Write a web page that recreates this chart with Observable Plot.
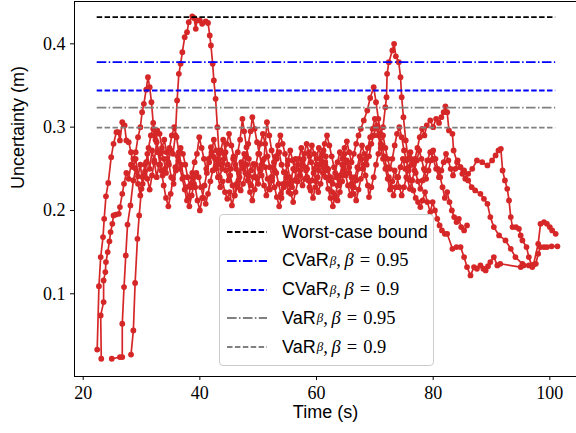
<!DOCTYPE html>
<html>
<head>
<meta charset="utf-8">
<script src="https://cdn.jsdelivr.net/npm/d3@7"></script>
<script src="https://cdn.jsdelivr.net/npm/@observablehq/plot@0.6"></script>
<style>
  html, body { margin: 0; padding: 0; background: #fff; }
  #wrap { position: relative; width: 576px; height: 433px; overflow: hidden; }
  #legend { position: absolute; box-sizing: border-box; border: 1px solid #cccccc; border-radius: 4px; background: rgba(255,255,255,0.8); }
  .row { position: absolute; left: 0; height: 28px; display: flex; align-items: center; white-space: nowrap; }
  .row svg { margin-left: 7px; margin-right: 15px; }
  .sans { font-family: "Liberation Sans", Arial, sans-serif; font-size: 18px; }
  .math { font-family: "Liberation Serif", serif; font-size: 18.5px; }
  .it { font-style: italic; }
  .eq { margin: 0 6px; }
  sub.b { font-family: "Liberation Serif", serif; font-style: italic; font-size: 13px; vertical-align: -5px; line-height: 0; margin-left: 1px; }
</style>
</head>
<body>
<div id="wrap"></div>
<script>
// ---- data ----
const xTicks = [20, 40, 60, 80, 100];
const yTicks = [0.1, 0.2, 0.3, 0.4];
const xLabel = "Time (s)";
const yLabel = "Uncertainty (m)";

const boundNames = ["Worst-case bound", "CVaR 0.95", "CVaR 0.9", "VaR 0.95", "VaR 0.9"];
const boundValues = [0.432, 0.378, 0.344, 0.3235, 0.2995];
const boundSpan = [22.4, 101.0];

const runA = [[22.4,.033],[22.7,.109],[23.0,.144],[23.4,.168],[23.6,.19],[23.9,.217],[24.3,.233],[24.8,.264],[25.2,.28],[25.7,.294],[26.0,.294],[26.3,.284],[26.7,.306],[27.1,.302],[27.4,.284],[27.8,.282],[28.2,.27],[28.6,.252],[29.0,.262],[29.4,.241],[29.8,.255],[30.2,.232],[30.6,.247],[31.0,.268],[31.4,.25],[31.8,.272],[32.2,.258],[32.6,.24],[33.0,.255],[33.4,.27],[33.8,.262],[34.2,.245],[34.6,.258],[35.0,.272],[35.4,.268],[35.8,.29],[36.1,.332],[36.4,.364],[36.7,.376],[37.0,.39],[37.4,.408],[37.8,.414],[38.1,.426],[38.7,.433],[39.0,.431],[39.3,.418],[39.5,.428],[40.0,.428],[40.4,.424],[41.0,.427],[41.4,.425],[41.7,.41],[41.9,.398],[42.2,.376],[42.4,.356],[42.7,.334],[43.0,.3],[43.3,.268],[43.7,.255],[44.1,.262],[44.5,.248],[44.9,.236],[45.3,.25],[45.7,.262],[46.1,.255],[46.5,.27],[46.9,.285],[47.3,.31],[47.6,.295],[48.0,.276],[48.4,.262],[48.8,.248],[49.2,.256],[49.6,.24],[50.0,.232],[50.4,.248],[50.8,.26],[51.2,.252],[51.6,.238],[52.0,.225],[52.4,.236],[52.8,.248],[53.2,.262],[53.6,.27],[54.0,.255],[54.4,.246],[54.8,.232],[55.2,.222],[55.6,.235],[56.0,.25],[56.4,.262],[56.8,.255],[57.2,.242],[57.6,.23],[58.0,.238],[58.4,.25],[58.8,.265],[59.2,.278],[59.6,.268],[60.0,.255],[60.4,.248],[60.8,.26],[61.2,.272],[61.6,.265],[62.0,.25],[62.4,.24],[62.8,.232],[63.2,.245],[63.6,.258],[64.0,.27],[64.4,.262],[64.8,.275],[65.2,.283],[65.6,.27],[66.0,.258],[66.4,.268],[66.8,.28],[67.2,.29],[67.6,.298],[68.1,.308],[68.7,.32],[69.2,.335],[69.8,.348],[70.2,.33],[70.6,.31],[71.0,.292],[71.4,.3],[71.8,.324],[72.0,.336],[72.1,.364],[72.4,.378],[73.0,.392],[73.3,.40],[73.6,.385],[74.1,.378],[74.4,.36],[74.6,.336],[74.9,.312],[75.3,.284],[75.7,.262],[76.1,.27],[76.5,.255],[76.9,.262],[77.3,.275],[77.7,.288],[78.1,.298],[78.5,.29],[78.9,.302],[79.5,.308],[80.0,.3],[80.5,.31],[81.0,.305],[81.4,.312],[81.8,.318],[82.1,.325],[82.4,.318],[82.7,.296],[83.3,.292],[83.5,.272],[84.1,.258],[84.7,.252],[85.3,.248],[86.0,.236],[86.6,.228],[87.2,.224],[88.1,.22],[88.7,.214],[89.3,.208],[89.8,.192],[90.4,.18],[91.3,.17],[92.4,.164],[93.3,.154],[94.1,.144],[95.3,.136],[96.4,.134],[97.2,.135],[98.0,.16],[98.4,.184],[99.0,.186],[99.5,.184],[100.0,.18],[100.4,.176],[101.0,.172]];

const runB = [[23.1,.022],[23.0,.074],[23.5,.09],[23.5,.116],[23.8,.126],[23.9,.138],[24.2,.15],[24.5,.163],[24.7,.174],[25.0,.184],[25.2,.194],[25.6,.195],[26.1,.196],[26.3,.204],[26.7,.22],[27.0,.232],[27.4,.245],[27.8,.238],[28.2,.255],[28.6,.262],[29.0,.27],[29.4,.288],[29.8,.3],[30.1,.318],[30.4,.328],[30.8,.345],[31.1,.36],[31.4,.348],[31.7,.33],[32.0,.305],[32.3,.29],[32.7,.296],[33.1,.292],[33.5,.275],[33.9,.285],[34.3,.27],[34.7,.255],[35.1,.24],[35.5,.232],[35.9,.248],[36.3,.26],[36.7,.275],[37.1,.268],[37.5,.255],[37.9,.24],[38.3,.23],[38.7,.245],[39.1,.258],[39.5,.268],[39.9,.288],[40.3,.275],[40.7,.262],[41.1,.25],[41.5,.262],[41.9,.276],[42.3,.265],[42.7,.25],[43.1,.24],[43.5,.228],[43.9,.235],[44.3,.222],[44.7,.214],[45.1,.222],[45.5,.206],[45.9,.218],[46.3,.232],[46.7,.245],[47.1,.258],[47.5,.25],[47.9,.265],[48.3,.28],[48.7,.295],[49.0,.312],[49.4,.298],[49.8,.282],[50.2,.268],[50.6,.255],[51.0,.262],[51.5,.306],[51.9,.29],[52.3,.272],[52.7,.258],[53.1,.245],[53.5,.232],[53.9,.22],[54.3,.232],[54.7,.245],[55.1,.26],[55.5,.272],[55.9,.26],[56.3,.248],[56.7,.235],[57.1,.242],[57.5,.255],[57.9,.268],[58.3,.28],[58.7,.27],[59.1,.258],[59.5,.245],[59.9,.235],[60.3,.222],[60.7,.232],[61.1,.245],[61.5,.258],[61.9,.248],[62.3,.236],[62.7,.222],[63.1,.215],[63.6,.212],[64.0,.222],[64.4,.235],[64.8,.248],[65.2,.26],[65.6,.252],[66.0,.24],[66.4,.228],[66.8,.236],[67.2,.25],[67.6,.262],[68.0,.255],[68.4,.242],[68.8,.23],[69.0,.216],[69.4,.228],[69.8,.24],[70.2,.255],[70.6,.268],[71.0,.28],[71.4,.29],[71.8,.275],[72.2,.262],[72.6,.25],[73.0,.262],[73.4,.278],[73.8,.292],[74.2,.3],[74.6,.288],[75.0,.272],[75.4,.26],[75.8,.248],[76.2,.236],[76.6,.224],[77.0,.215],[77.4,.21],[77.8,.204],[78.2,.212],[78.6,.222],[79.0,.21],[79.5,.198],[79.9,.21],[80.3,.2],[80.7,.19],[81.1,.182],[81.5,.176],[82.0,.172],[82.4,.172],[83.3,.154],[84.0,.156],[84.7,.156],[85.3,.144],[85.8,.132],[86.4,.122],[87.0,.132],[87.5,.13],[88.1,.134],[88.6,.13],[89.0,.128],[89.4,.133],[89.8,.138],[90.4,.144],[91.0,.134],[91.5,.136],[95.0,.132],[95.5,.134]];

const runC = [[24.9,.022],[26.3,.024],[26.7,.024],[26.7,.064],[27.0,.108],[27.3,.146],[27.6,.183],[28.1,.206],[28.6,.236],[29.0,.25],[29.4,.232],[29.8,.218],[30.2,.24],[30.6,.255],[31.0,.238],[31.4,.225],[31.8,.242],[32.2,.26],[32.6,.282],[33.0,.27],[33.4,.248],[33.8,.23],[34.2,.215],[34.6,.205],[35.0,.22],[35.4,.238],[35.8,.252],[36.2,.265],[36.6,.25],[37.0,.238],[37.4,.225],[37.8,.212],[38.2,.205],[38.6,.218],[39.0,.232],[39.4,.245],[39.8,.24],[40.2,.228],[40.6,.215],[41.0,.208],[41.4,.22],[41.8,.235],[42.2,.248],[42.6,.262],[43.0,.255],[43.4,.24],[43.8,.25],[44.2,.268],[44.6,.28],[45.0,.292],[45.4,.278],[45.8,.265],[46.2,.25],[46.6,.236],[47.0,.224],[47.4,.232],[47.8,.245],[48.2,.236],[48.6,.222],[49.0,.212],[49.4,.225],[49.8,.238],[50.2,.25],[50.6,.242],[51.0,.23],[51.4,.218],[51.8,.226],[52.2,.24],[52.6,.252],[53.0,.265],[53.4,.278],[53.8,.29],[54.2,.28],[54.6,.268],[55.0,.255],[55.4,.24],[55.8,.228],[56.2,.236],[56.6,.25],[57.0,.262],[57.4,.275],[57.8,.262],[58.2,.248],[58.6,.236],[59.0,.224],[59.4,.215],[59.8,.228],[60.2,.24],[60.6,.255],[61.0,.268],[61.4,.28],[61.8,.29],[62.2,.278],[62.6,.265],[63.0,.252],[63.4,.24],[63.8,.23],[64.2,.242],[64.6,.255],[65.0,.242],[65.4,.23],[65.8,.218],[66.2,.228],[66.6,.24],[67.0,.252],[67.4,.265],[67.8,.278],[68.2,.268],[68.6,.255],[69.0,.265],[69.4,.28],[69.8,.29],[70.2,.3],[70.6,.29],[71.0,.275],[71.4,.262],[71.8,.25],[72.2,.238],[72.6,.225],[73.0,.235],[73.4,.248],[73.8,.24],[74.2,.228],[74.6,.218],[75.0,.228],[75.4,.24],[75.8,.252],[76.2,.262],[76.6,.255],[77.0,.245],[77.4,.235],[77.8,.226],[78.2,.236],[78.6,.248],[79.0,.26],[79.5,.27],[80.0,.262],[80.5,.25],[81.0,.24],[81.4,.248],[81.8,.258],[82.2,.268],[82.6,.26],[83.0,.25],[83.4,.242],[83.8,.25],[84.2,.26],[84.6,.252],[85.0,.244],[85.5,.238],[86.0,.244],[86.7,.25],[87.5,.26],[88.4,.258],[89.3,.254],[90.1,.26],[90.7,.266],[91.2,.272],[91.6,.274],[91.9,.248],[92.3,.236],[92.7,.226],[93.0,.212],[93.3,.192],[93.6,.18],[94.2,.18],[94.7,.178],[95.0,.17],[95.3,.164],[96.0,.156],[96.4,.144],[97.0,.132],[97.6,.136],[98.0,.148],[98.4,.156],[99.0,.156],[99.5,.156],[100.3,.157],[101.3,.157]];

const runD = [[28.2,.027],[28.6,.056],[28.9,.113],[29.3,.166],[29.6,.194],[30.0,.226],[30.4,.242],[30.8,.258],[31.2,.275],[31.6,.29],[32.0,.298],[32.4,.285],[32.8,.27],[33.2,.255],[33.6,.242],[34.0,.25],[34.4,.262],[34.8,.275],[35.2,.29],[35.6,.3],[36.0,.288],[36.4,.27],[36.8,.255],[37.2,.24],[37.6,.228],[38.0,.215],[38.4,.228],[38.8,.24],[39.2,.228],[39.6,.212],[40.0,.2],[40.4,.215],[40.8,.23],[41.2,.245],[41.6,.258],[42.0,.27],[42.4,.285],[42.8,.272],[43.2,.26],[43.6,.272],[44.0,.285],[44.4,.27],[44.8,.255],[45.2,.242],[45.6,.23],[46.0,.218],[46.4,.228],[46.8,.24],[47.2,.255],[47.6,.268],[48.0,.255],[48.4,.242],[48.8,.23],[49.2,.24],[49.6,.255],[50.0,.268],[50.4,.28],[50.8,.292],[51.2,.28],[51.6,.265],[52.0,.252],[52.4,.24],[52.8,.228],[53.2,.216],[53.6,.205],[54.0,.215],[54.4,.228],[54.8,.24],[55.2,.232],[55.6,.22],[56.0,.21],[56.4,.222],[56.8,.235],[57.2,.248],[57.6,.26],[58.0,.252],[58.4,.24],[58.8,.228],[59.2,.236],[59.6,.25],[60.0,.262],[60.4,.275],[60.8,.265],[61.2,.252],[61.6,.24],[62.0,.226],[62.4,.215],[62.8,.205],[63.2,.218],[63.6,.23],[64.0,.242],[64.4,.255],[64.8,.268],[65.2,.258],[65.6,.245],[66.0,.232],[66.4,.22],[66.8,.212],[67.2,.225],[67.6,.238],[68.0,.25],[68.4,.262],[68.8,.275],[69.2,.288],[69.6,.298],[70.0,.31],[70.4,.302],[70.8,.29],[71.2,.278],[71.6,.265],[72.0,.252],[72.4,.24],[72.8,.228],[73.2,.218],[73.6,.228],[74.0,.24],[74.4,.252],[74.8,.262],[75.2,.25],[75.6,.238],[76.0,.226],[76.4,.236],[76.8,.248],[77.2,.26],[77.6,.272],[78.0,.262],[78.4,.25],[78.8,.238],[79.2,.248],[79.6,.26],[80.0,.272],[80.4,.262],[80.8,.25],[81.2,.24],[81.6,.228],[82.0,.215],[82.4,.222],[82.8,.21],[83.2,.2],[83.6,.192],[84.0,.186],[84.4,.19],[84.8,.18],[85.3,.176],[85.8,.182]];

const runs = {A: runA, B: runB, C: runC, D: runD};

// ---- build tables ----
const rows = [];
for (const [name, pts] of Object.entries(runs)) {
  for (const [t, u] of pts) rows.push({run: name, t, u});
}
const boundStyles = [
  {stroke: "#000000", dash: "5.5,2.4"},
  {stroke: "#0000ff", dash: "9.6,2.4,1.5,2.4"},
  {stroke: "#0000ff", dash: "5.5,2.4"},
  {stroke: "#808080", dash: "9.6,2.4,1.5,2.4"},
  {stroke: "#808080", dash: "5.5,2.4"}
];
const bounds = boundNames.map((n, i) => ({name: n, value: boundValues[i], x1: boundSpan[0], x2: boundSpan[1], ...boundStyles[i]}));

const RED = "#d62728";

const chart = Plot.plot({
  width: 576,
  height: 433,
  marginLeft: 74,
  marginRight: 0,
  marginTop: 1,
  marginBottom: 57,
  style: {fontFamily: "'Liberation Serif', serif", fontSize: "18px", color: "#000", background: "#fff", overflow: "visible"},
  x: {domain: [18.51, 104.57], ticks: xTicks, tickSize: 4, tickPadding: 6, label: null, tickFormat: d => String(d)},
  y: {domain: [0.0007, 0.4508], ticks: yTicks, tickSize: 4, tickPadding: 5, label: null, tickFormat: d => d.toFixed(1)},
  marks: [
    Plot.line(rows, {x: "t", y: "u", z: "run", stroke: RED, strokeWidth: 1.7, curve: "linear"}),
    Plot.dot(rows, {x: "t", y: "u", fill: RED, r: 2.9, stroke: "none"}),
    ...bounds.map(b => Plot.ruleY([b], {y: "value", x1: "x1", x2: "x2", stroke: b.stroke, strokeWidth: 1.8, strokeDasharray: b.dash})),
    Plot.frame({anchor: "left", stroke: "#000", strokeWidth: 1}),
    Plot.frame({anchor: "top", stroke: "#000", strokeWidth: 1}),
    Plot.frame({anchor: "bottom", stroke: "#000", strokeWidth: 1}),
    Plot.text([xLabel], {frameAnchor: "bottom", dy: 41, text: d => d, fontFamily: "'Liberation Sans', Arial, sans-serif", fontSize: 18, fill: "#000"}),
    Plot.text([yLabel], {frameAnchor: "left", dx: -56, rotate: -90, text: d => d, fontFamily: "'Liberation Sans', Arial, sans-serif", fontSize: 18, fill: "#000"})
  ]
});

const wrap = document.getElementById("wrap");
wrap.appendChild(chart);

// ---- legend ----
const legendLabels = [
  {sans: "Worst-case bound"},
  {sans: "CVaR", sub: "β", math: "0.95"},
  {sans: "CVaR", sub: "β", math: "0.9"},
  {sans: "VaR", sub: "β", math: "0.95"},
  {sans: "VaR", sub: "β", math: "0.9"}
];
const legend = document.createElement("div");
legend.id = "legend";
Object.assign(legend.style, {left: "219px", top: "214px", width: "215px", height: "152px"});
legendLabels.forEach((lab, i) => {
  const b = bounds[i];
  const row = document.createElement("div");
  row.className = "row";
  row.style.top = (3 + i * 28.8) + "px";
  let html = `<svg width="40" height="10"><line x1="0" x2="40" y1="5" y2="5" stroke="${b.stroke}" stroke-width="1.8" stroke-dasharray="${b.dash}"/></svg>`;
  html += `<span class="sans">${lab.sans}</span>`;
  if (lab.sub) {
    html += `<sub class="b">${lab.sub}</sub><span class="math">,&thinsp;<span class="it">${lab.sub}</span><span class="eq">=</span>${lab.math}</span>`;
  }
  row.innerHTML = html;
  legend.appendChild(row);
});
wrap.appendChild(legend);
</script>
</body>
</html>
